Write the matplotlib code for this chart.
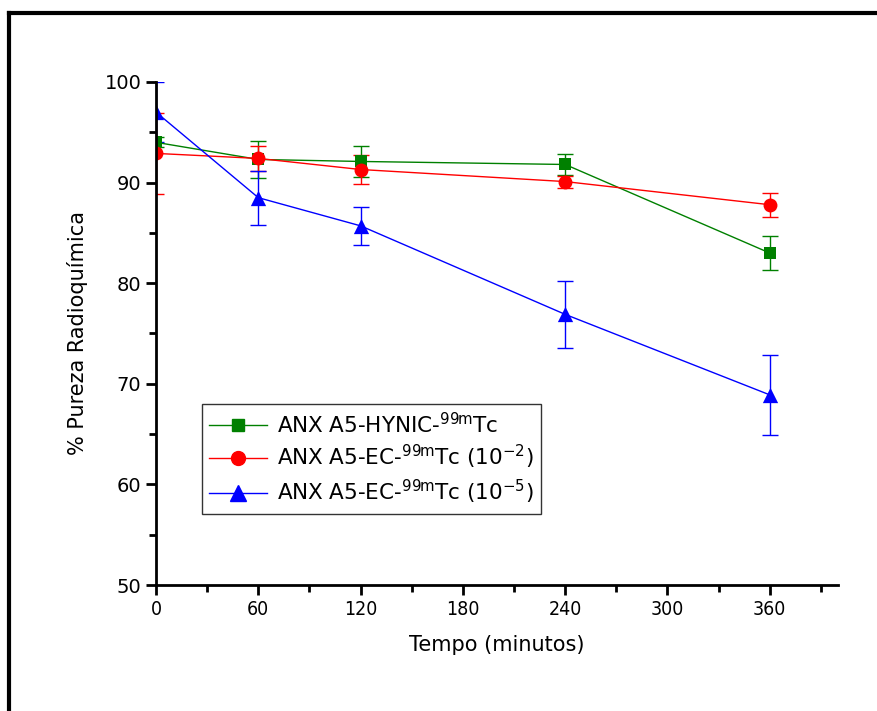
import matplotlib
matplotlib.use("Agg")
import matplotlib.pyplot as plt
from matplotlib.lines import Line2D
from matplotlib.ticker import MultipleLocator

plt.rcParams['font.family'] = ['DejaVu Sans']

# data
tempo = [0, 60, 120, 240, 360]

hynic = [94.0, 92.3, 92.1, 91.8, 83.0]
hynic_err = [0.5, 1.8, 1.5, 1.0, 1.7]

ec_2 = [92.9, 92.4, 91.3, 90.1, 87.8]
ec_2_err = [4.0, 1.2, 1.4, 0.6, 1.2]

ec_5 = [97.0, 88.5, 85.7, 76.9, 68.9]
ec_5_err = [3.0, 2.7, 1.9, 3.3, 4.0]

labels = [r'ANX A5-HYNIC-$^{\mathregular{99m}}$Tc',
          r'ANX A5-EC-$^{\mathregular{99m}}$Tc (10$^{\mathregular{-2}}$)',
          r'ANX A5-EC-$^{\mathregular{99m}}$Tc (10$^{\mathregular{-5}}$)']

fig = plt.figure(figsize=(8.78, 7.11), dpi=100)
ax = fig.add_axes([0.1777, 0.1772, 0.9544 - 0.1777, 0.8847 - 0.1772])

series = [(hynic, hynic_err, 'green', 's', 8),
          (ec_2, ec_2_err, 'red', 'o', 10),
          (ec_5, ec_5_err, 'blue', '^', 11)]
handles = []
for vals, errs, col, mk, ms in series:
    ax.errorbar(tempo, vals, yerr=errs, color=col, marker='none',
                linewidth=1, elinewidth=1, capsize=6, capthick=1, ecolor=col)
    # markers as a collection so they are clipped at the axis edge
    ax.scatter(tempo, vals, s=ms ** 2, marker=mk, color=col, zorder=3, linewidths=0)
    handles.append(Line2D([], [], color=col, marker=mk, markersize=ms, linewidth=1))

ax.set_xlim(0, 400)
ax.set_ylim(50, 100)
ax.xaxis.set_major_locator(MultipleLocator(60))
ax.xaxis.set_minor_locator(MultipleLocator(30))
ax.yaxis.set_major_locator(MultipleLocator(10))
ax.yaxis.set_minor_locator(MultipleLocator(5))
ax.set_xticks([0, 60, 120, 180, 240, 300, 360])

for s in ['top', 'right']:
    ax.spines[s].set_visible(False)
for s in ['left', 'bottom']:
    ax.spines[s].set_linewidth(2)
    ax.spines[s].set_zorder(5)
ax.tick_params(which='major', direction='out', length=7, width=2, labelsize=14)
ax.tick_params(which='minor', direction='out', length=5, width=2)
for t in ax.get_xticklabels():
    t.set_fontstretch('condensed')

ax.set_xlabel('Tempo (minutos)', fontsize=15, labelpad=12)
ax.set_ylabel('% Pureza Radioquímica', fontsize=15, labelpad=12)

leg = ax.legend(handles, labels, loc='lower left', bbox_to_anchor=(0.067, 0.142),
                fontsize=15.5, frameon=True, fancybox=False, edgecolor='black',
                handlelength=2.7, borderpad=0.35, labelspacing=0.3,
                handletextpad=0.45, borderaxespad=0)
leg.get_frame().set_linewidth(1)

# frame around the figure (top and left edges visible)
fig.add_artist(Line2D([0.0103, 1.0], [0.9815, 0.9815], color='black', linewidth=3,
                      transform=fig.transFigure))
fig.add_artist(Line2D([0.0103, 0.0103], [0.0, 0.9815], color='black', linewidth=3,
                      transform=fig.transFigure))

fig.savefig('out.png', dpi=100)
